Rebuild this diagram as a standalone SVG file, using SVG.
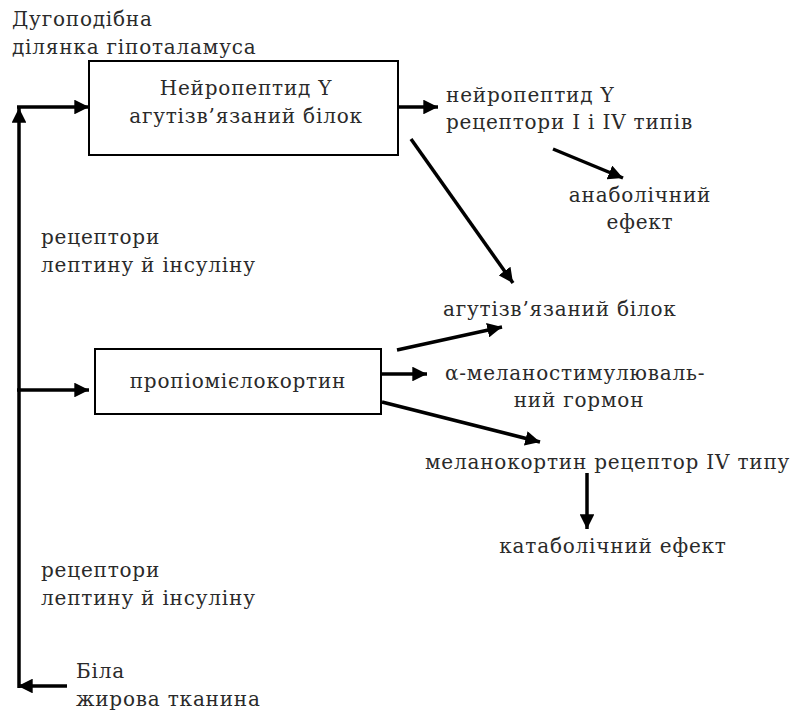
<svg xmlns="http://www.w3.org/2000/svg" width="796" height="716" viewBox="0 0 796 716">
<style>
text{font-family:"DejaVu Serif","Liberation Serif",serif;font-size:20px;letter-spacing:0.8px;fill:#2a2a2a}
.c{text-anchor:middle}
.box{fill:#fff;stroke:#000;stroke-width:2}
.ln{stroke:#000;stroke-width:3.5;fill:none}
</style>
<defs>
<marker id="ah" viewBox="0 0 10 10" refX="10" refY="5" markerWidth="4.2" markerHeight="4.2" markerUnits="strokeWidth" orient="auto">
<path d="M0,0 L10,5 L0,10 Z" fill="#000"/>
</marker>
</defs>
<rect width="796" height="716" fill="#fff"/>
<g id="label-arcuate">
<text x="12" y="26">Дугоподібна</text>
<text x="12" y="54">ділянка гіпоталамуса</text>
</g>
<g id="node-npy">
<rect class="box" x="89" y="61" width="309" height="94"/>
<text class="c" x="246" y="95">Нейропептид Y</text>
<text class="c" x="246" y="123">агутізв’язаний білок</text>
</g>
<g id="node-pomc">
<rect class="box" x="95" y="349" width="286" height="65"/>
<text class="c" x="238" y="388">пропіомієлокортин</text>
</g>
<g id="label-receptors-1">
<text x="41" y="244">рецептори</text>
<text x="41" y="272">лептину й інсуліну</text>
</g>
<g id="label-receptors-2">
<text x="41" y="577">рецептори</text>
<text x="41" y="605">лептину й інсуліну</text>
</g>
<g id="label-white-fat">
<text x="76" y="678">Біла</text>
<text x="76" y="706">жирова тканина</text>
</g>
<g id="label-npy-receptors">
<text x="446" y="102">нейропептид Y</text>
<text x="446" y="129">рецептори I і IV типів</text>
</g>
<g id="label-anabolic">
<text class="c" x="640" y="202">анаболічний</text>
<text class="c" x="640" y="229">ефект</text>
</g>
<g id="label-agrp">
<text x="443" y="316">агутізв’язаний білок</text>
</g>
<g id="label-msh">
<text x="445" y="380">α-меланостимулюваль-</text>
<text class="c" x="579" y="407">ний гормон</text>
</g>
<g id="label-mc4r">
<text x="425" y="469">меланокортин рецептор IV типу</text>
</g>
<g id="label-catabolic">
<text class="c" x="613" y="553">катаболічний ефект</text>
</g>
<g id="connectors">
<line class="ln" x1="19" y1="688" x2="19" y2="108" marker-end="url(#ah)"/>
<line class="ln" x1="17" y1="107" x2="89" y2="107" marker-end="url(#ah)"/>
<line class="ln" x1="17" y1="390" x2="89" y2="390" marker-end="url(#ah)"/>
<line class="ln" x1="67" y1="686" x2="18" y2="686" marker-end="url(#ah)"/>
<line class="ln" x1="398" y1="107" x2="438" y2="107" marker-end="url(#ah)"/>
<line class="ln" x1="553" y1="149" x2="623" y2="178" marker-end="url(#ah)"/>
<line class="ln" x1="411" y1="139" x2="513" y2="283" marker-end="url(#ah)"/>
<line class="ln" x1="397" y1="350" x2="502" y2="327" marker-end="url(#ah)"/>
<line class="ln" x1="381" y1="374" x2="427" y2="374" marker-end="url(#ah)"/>
<line class="ln" x1="382" y1="402" x2="540" y2="442" marker-end="url(#ah)"/>
<line class="ln" x1="587" y1="473" x2="587" y2="529" marker-end="url(#ah)"/>
</g>
</svg>
